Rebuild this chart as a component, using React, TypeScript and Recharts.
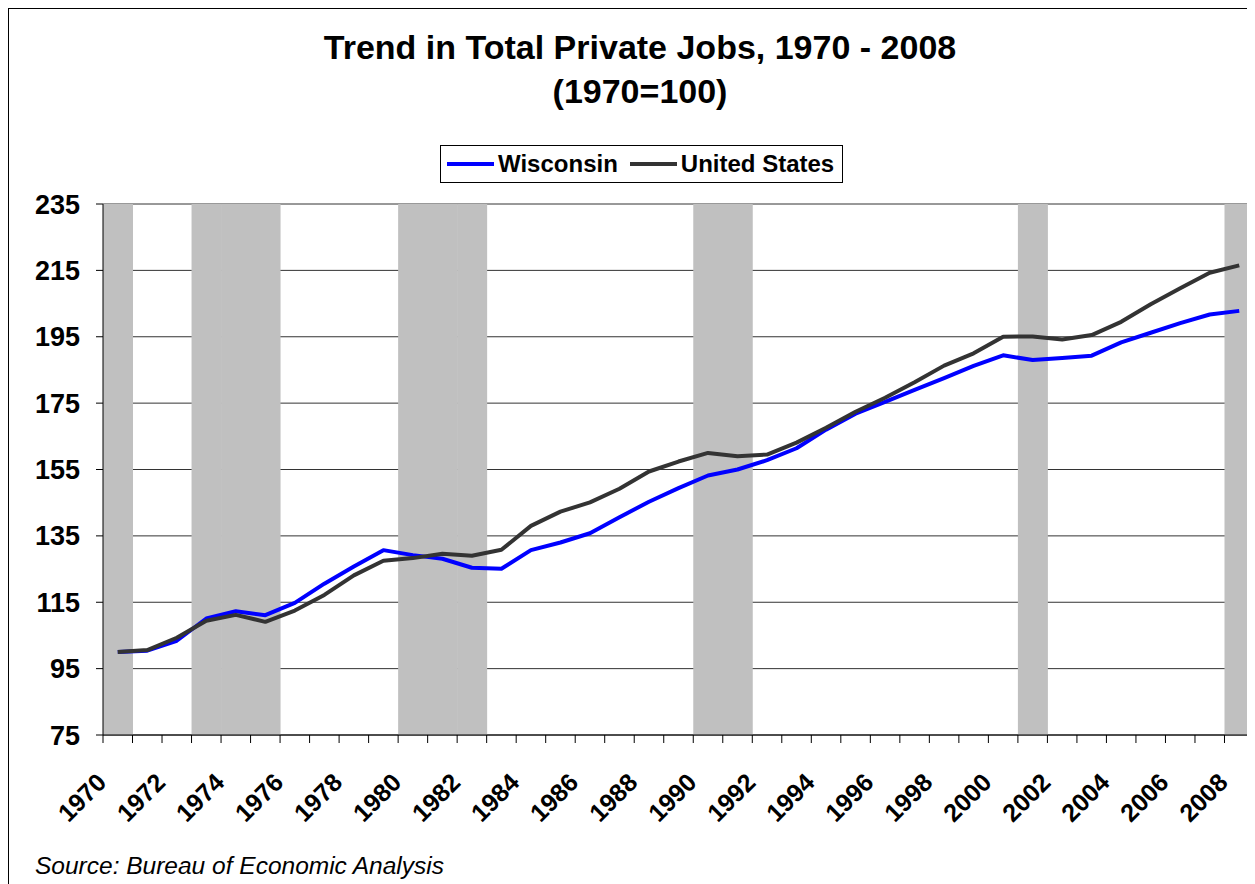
import { Bar, CartesianGrid, ComposedChart, Line, XAxis, YAxis } from 'recharts'

const years = [
  '1970', '1971', '1972', '1973', '1974', '1975', '1976', '1977', '1978', '1979',
  '1980', '1981', '1982', '1983', '1984', '1985', '1986', '1987', '1988', '1989',
  '1990', '1991', '1992', '1993', '1994', '1995', '1996', '1997', '1998', '1999',
  '2000', '2001', '2002', '2003', '2004', '2005', '2006', '2007', '2008',
]

const wisconsin = [
  100, 100.4, 103.4, 110.1, 112.3, 111.1, 114.8, 120.6, 125.8, 130.7,
  129.2, 128.1, 125.4, 125.1, 130.7, 133.0, 135.8, 140.6, 145.3, 149.4,
  153.2, 155.0, 157.8, 161.4, 167.0, 171.8, 175.4, 179.0, 182.5, 186.2,
  189.4, 188.0, 188.6, 189.3, 193.3, 196.2, 199.1, 201.7, 202.8,
]

const unitedStates = [
  100, 100.6, 104.3, 109.4, 111.2, 109.1, 112.5, 117.2, 123.1, 127.5,
  128.3, 129.6, 129.0, 130.8, 138.0, 142.3, 145.1, 149.2, 154.4, 157.4,
  160.0, 159.0, 159.5, 163.1, 167.6, 172.4, 176.6, 181.3, 186.3, 190.0,
  195.0, 195.1, 194.2, 195.5, 199.5, 204.8, 209.6, 214.3, 216.5,
]

// recession years shaded grey
const recessionYears = ['1970', '1973', '1974', '1975', '1980', '1981', '1982', '1990', '1991', '2001', '2008']

const yTicks = [75, 95, 115, 135, 155, 175, 195, 215, 235]

const series = [
  { key: 'wisconsin', name: 'Wisconsin', color: '#0000FF' },
  { key: 'us', name: 'United States', color: '#333333' },
]

const data = years.map((year, i) => ({
  year,
  wisconsin: wisconsin[i],
  us: unitedStates[i],
  recession: recessionYears.includes(year) ? 235 : null,
}))

const FONT = '"Liberation Sans", Arial, sans-serif'
const CHART_W = 1246
const CHART_H = 875
const PLOT_W = 1151

const YearTick = (props: any) => {
  const { x, y, payload, index } = props
  const half = payload?.offset ?? PLOT_W / years.length / 2
  const year = String(payload.value)
  const showLabel = Number(year) % 2 === 0
  const lx = x - 10
  const ly = y + 49
  return (
    <g>
      <line x1={x - half} x2={x - half} y1={y} y2={y + 8} stroke='#000' />
      {index === years.length - 1 && (
        <line x1={x + half} x2={x + half} y1={y} y2={y + 8} stroke='#000' />
      )}
      {showLabel && (
        <text
          x={lx}
          y={ly}
          textAnchor='end'
          transform={`rotate(-45 ${lx} ${ly})`}
          fontSize={25}
          fontWeight='bold'
          fontFamily={FONT}
          fill='#000'
        >
          {year}
        </text>
      )}
    </g>
  )
}

export default function App() {
  return (
    <div
      style={{
        position: 'relative',
        width: 1247,
        height: 876,
        boxSizing: 'border-box',
        borderLeft: '1px solid #000',
        borderTop: '1px solid #000',
        overflow: 'hidden',
        fontFamily: FONT,
        background: '#fff',
      }}
    >
      <div style={{ position: 'absolute', top: 0, left: 0 }}>
        <ComposedChart
          width={CHART_W}
          height={CHART_H}
          data={data}
          margin={{ top: 195, right: 1, bottom: 49, left: 0 }}
          barCategoryGap={0}
          barGap={0}
        >
          <CartesianGrid vertical={false} stroke='#333' strokeWidth={1} />
          <XAxis
            dataKey='year'
            interval={0}
            height={100}
            tickSize={0}
            tickMargin={0}
            tick={<YearTick />}
            axisLine={{ stroke: '#000' }}
          />
          <YAxis
            domain={[75, 235]}
            ticks={yTicks}
            interval={0}
            allowDataOverflow
            width={94}
            tickSize={7}
            tickMargin={16}
            tickLine={{ stroke: '#000' }}
            axisLine={{ stroke: '#000' }}
            tick={{ fill: '#000', fontSize: 27, fontWeight: 'bold', fontFamily: FONT }}
          />
          <Bar dataKey='recession' fill='#C0C0C0' isAnimationActive={false} />
          {series.map((s) => (
            <Line
              key={s.key}
              type='linear'
              dataKey={s.key}
              name={s.name}
              stroke={s.color}
              strokeWidth={4}
              strokeLinejoin='round'
              dot={false}
              activeDot={false}
              isAnimationActive={false}
            />
          ))}
        </ComposedChart>
      </div>

      <div
        style={{
          position: 'absolute',
          top: 16,
          left: 0,
          width: 1262,
          textAlign: 'center',
          fontSize: 34,
          fontWeight: 'bold',
          lineHeight: '44px',
          color: '#000',
        }}
      >
        <div>Trend in Total Private Jobs, 1970 - 2008</div>
        <div>(1970=100)</div>
      </div>

      <div
        style={{
          position: 'absolute',
          left: 431,
          top: 136,
          width: 403,
          height: 38,
          boxSizing: 'border-box',
          border: '1px solid #000',
          display: 'flex',
          alignItems: 'center',
          paddingLeft: 6,
          fontSize: 24,
          fontWeight: 'bold',
          background: '#fff',
        }}
      >
        {series.map((s, i) => (
          <div key={s.key} style={{ display: 'flex', alignItems: 'center', marginLeft: i === 0 ? 0 : 12 }}>
            <div style={{ width: 47, height: 4, background: s.color, marginRight: 4 }} />
            <span>{s.name}</span>
          </div>
        ))}
      </div>

      <div
        style={{
          position: 'absolute',
          left: 26,
          top: 845,
          fontSize: 24.5,
          fontStyle: 'italic',
          lineHeight: '24px',
          color: '#000',
        }}
      >
        Source: Bureau of Economic Analysis
      </div>
    </div>
  )
}
